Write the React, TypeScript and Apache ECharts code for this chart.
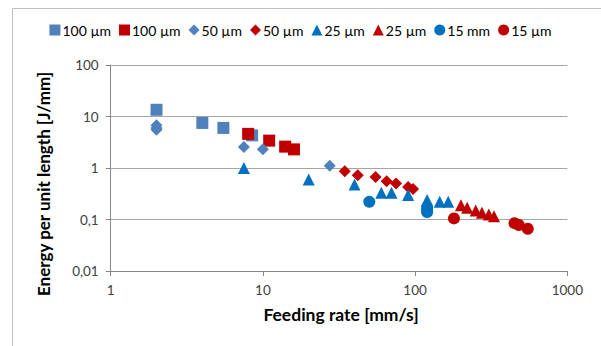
import React, { useEffect, useRef } from "react";
import * as echarts from "echarts";

const seriesNames = ["100 µm", "100 µm ", "50 µm", "50 µm ", "25 µm", "25 µm ", "15 mm", "15 µm"];
const legendLabels = ["100 µm", "100 µm", "50 µm", "50 µm", "25 µm", "25 µm", "15 mm", "15 µm"];

const blueSquares: [number, number][] = [[2, 13.5], [4, 7.5], [5.5, 6], [8.5, 4.3]];
const redSquares: [number, number][] = [[8, 4.6], [11, 3.4], [14, 2.6], [16, 2.3]];
const blueDiamonds: [number, number][] = [[2, 6.8], [2, 6], [2, 5.5], [7.5, 2.55], [10, 2.3], [27.5, 1.1]];
const redDiamonds: [number, number][] = [[34.5, 0.86], [42, 0.72], [55, 0.67], [65, 0.55], [75, 0.5], [90, 0.43], [97, 0.39]];
const blueTriangles: [number, number][] = [[7.5, 1], [20, 0.6], [40, 0.48], [60, 0.33], [70, 0.33], [90, 0.3], [120, 0.24], [145, 0.22], [165, 0.22]];
const redTriangles: [number, number][] = [[200, 0.19], [220, 0.17], [250, 0.15], [275, 0.135], [305, 0.125], [330, 0.115]];
const blueCircles: [number, number][] = [[50, 0.22], [120, 0.17], [120, 0.15], [120, 0.14]];
const redCircles: [number, number][] = [[180, 0.105], [450, 0.085], [480, 0.078], [550, 0.066]];

const seriesData = [blueSquares, redSquares, blueDiamonds, redDiamonds, blueTriangles, redTriangles, blueCircles, redCircles];
const symbols = ["rect", "rect", "diamond", "diamond", "triangle", "triangle", "circle", "circle"];
const colors = ["#4F81BD", "#C00000", "#4F81BD", "#C00000", "#0070C0", "#C00000", "#0070C0", "#C00000"];
const sizes = [12, 12, 12, 12, 12, 12, 12, 12];

const xTitle = "Feeding rate [mm/s]";
const yTitle = "Energy per unit length [J/mm]";

export default function App() {
  const ref = useRef<HTMLDivElement>(null);
  useEffect(() => {
    if (!ref.current) return;
    const chart = echarts.init(ref.current, undefined, { renderer: "svg" });
    const font = "Lato, 'Noto Sans', sans-serif";
    chart.setOption({
      animation: false,
      textStyle: { fontFamily: font },
      grid: { left: 110.7, right: 33.7, top: 65, bottom: 75 },
      legend: {
        top: 18,
        left: "center",
        itemWidth: 11,
        itemHeight: 11,
        itemGap: 8,
        textStyle: { fontSize: 14, color: "#000", fontFamily: font, padding: [0, 0, 0, -3] },
        data: seriesNames,
        formatter: (n: string) => legendLabels[seriesNames.indexOf(n)],
      },
      xAxis: {
        type: "log",
        logBase: 10,
        min: 1,
        max: 1000,
        axisLine: { show: true, lineStyle: { color: "#868686" } },
        axisTick: { show: true, length: 5, lineStyle: { color: "#868686" } },
        minorTick: { show: false },
        splitLine: { show: false },
        axisLabel: { fontSize: 13.5, color: "#404040", margin: 12, fontFamily: font, formatter: (v: number) => String(v) },
      },
      yAxis: {
        type: "log",
        logBase: 10,
        min: 0.01,
        max: 100,
        axisLine: { show: true, lineStyle: { color: "#868686" } },
        axisTick: { show: true, length: 5, lineStyle: { color: "#868686" } },
        splitLine: { show: true, lineStyle: { color: "#A6A6A6" } },
        axisLabel: {
          fontSize: 13.5,
          color: "#404040",
          margin: 12,
          fontFamily: font,
          formatter: (v: number) => String(v).replace(".", ","),
        },
      },
      graphic: [
        { type: "rect", shape: { x: 12.5, y: 8.5, width: 700, height: 500 }, style: { fill: "none", stroke: "#BFBFBF", lineWidth: 1 }, silent: true, z: -10 },
        { type: "text", x: 341, y: 314, style: { text: xTitle, font: `bold 17.5px ${font}`, fill: "#000", textAlign: "center", textVerticalAlign: "middle" } },
        { type: "text", x: 43, y: 184, rotation: Math.PI / 2, style: { text: yTitle, font: `bold 17px ${font}`, fill: "#000", textAlign: "center", textVerticalAlign: "middle" } },
      ],
      series: seriesData.map((d, i) => ({
        name: seriesNames[i],
        type: "scatter",
        symbol: symbols[i],
        symbolSize: sizes[i],
        itemStyle: { color: colors[i], opacity: 1 },
        data: d,
      })),
    });
    return () => chart.dispose();
  }, []);
  return <div ref={ref} style={{ position: "fixed", left: 0, top: 0, width: 601, height: 346, background: "#fff" }} />;
}
